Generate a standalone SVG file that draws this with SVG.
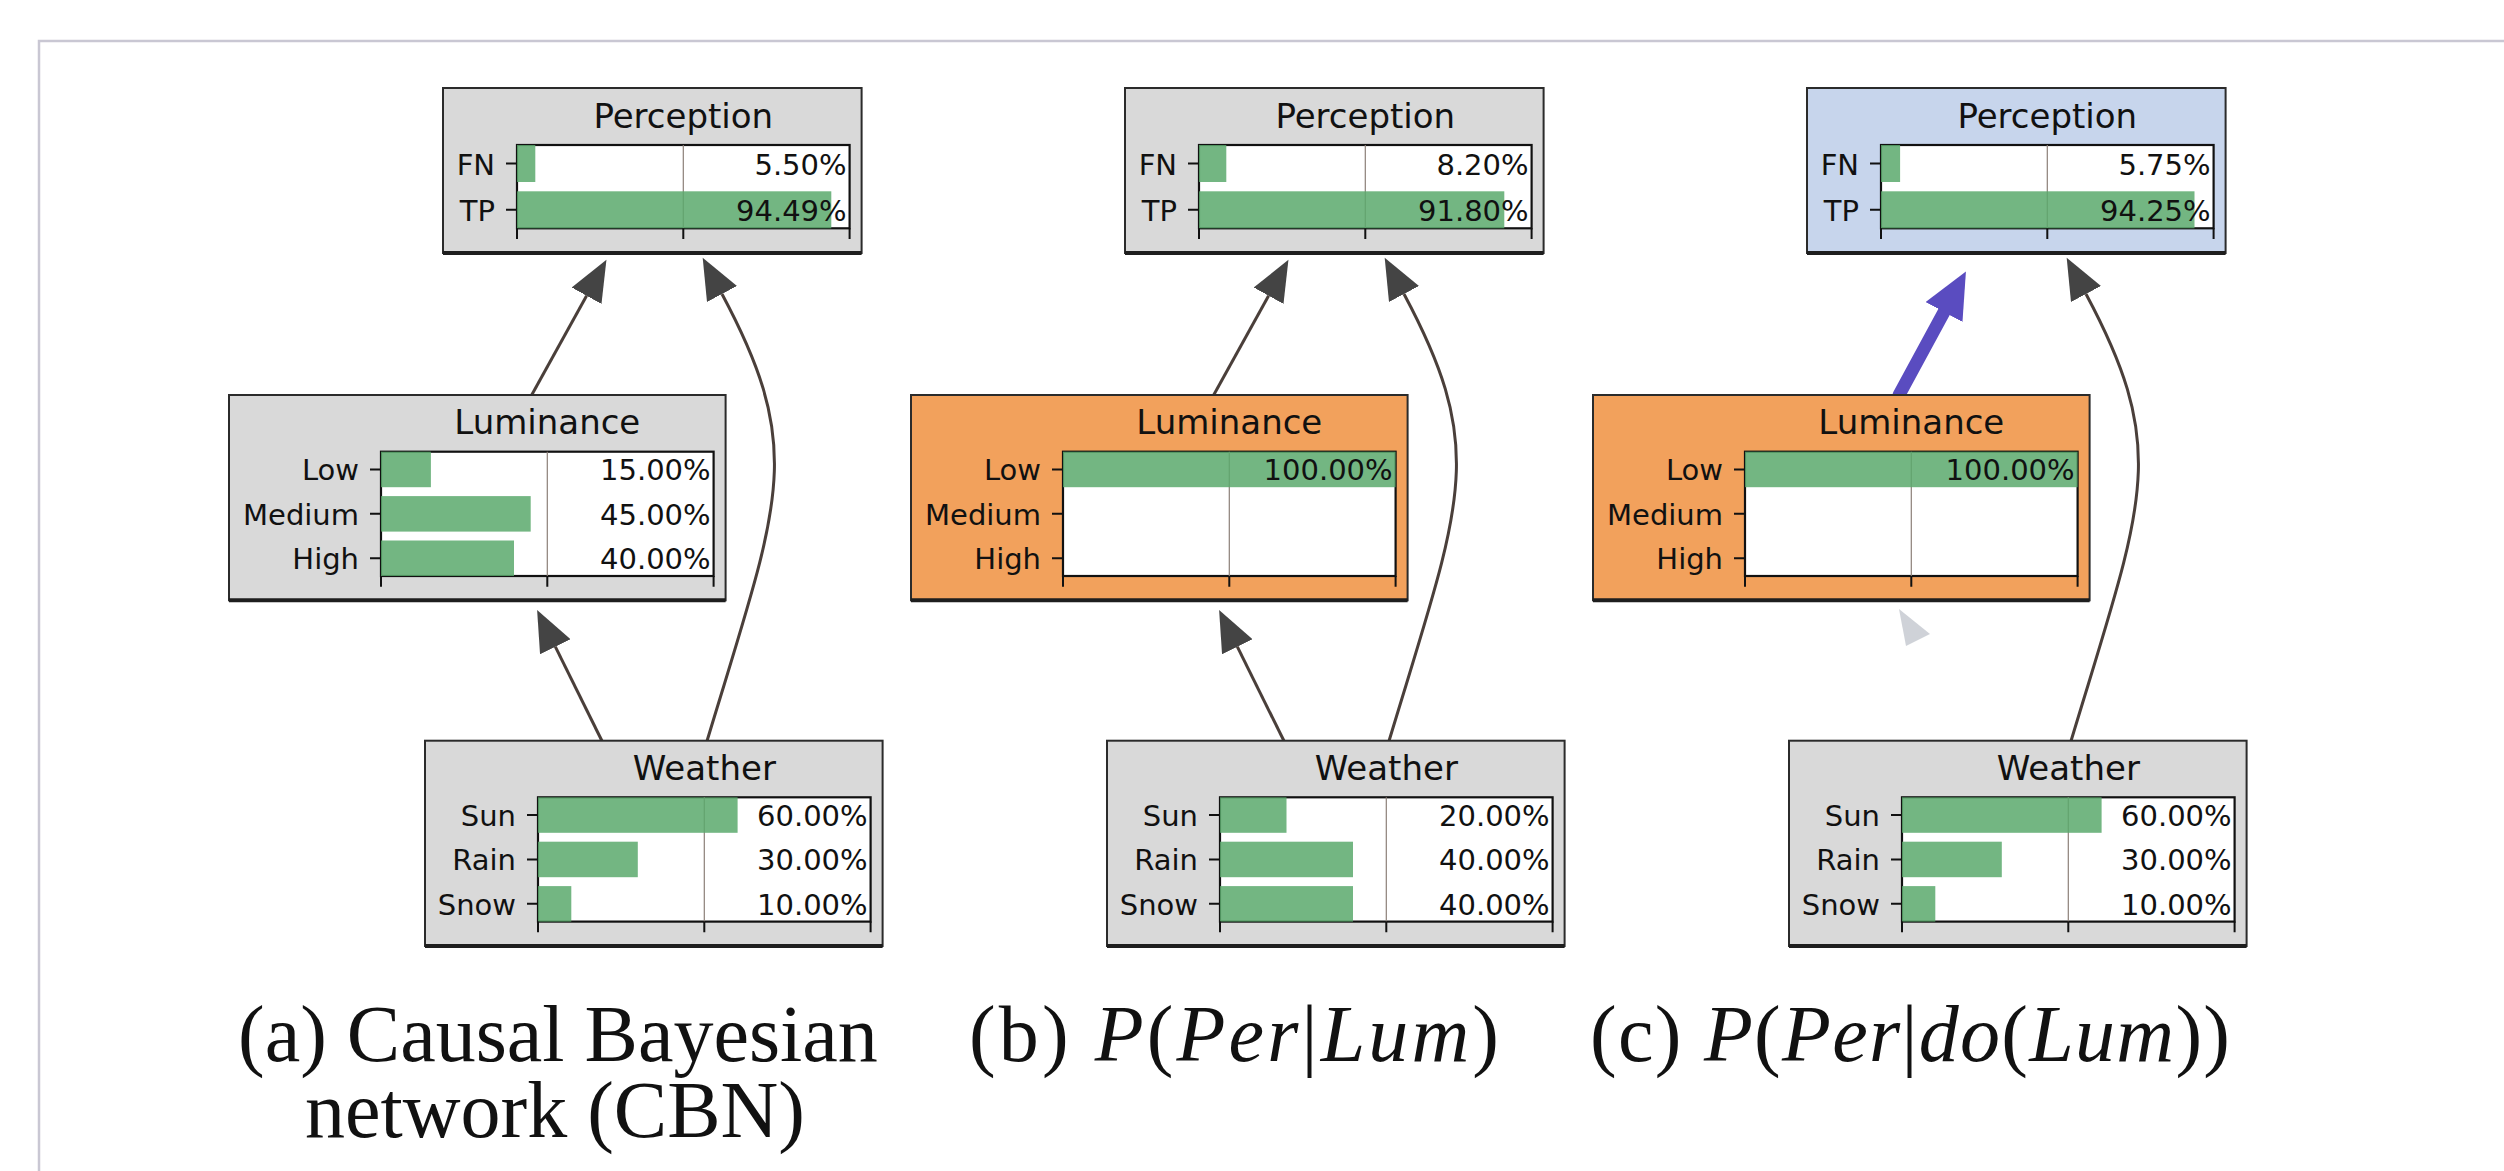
<svg xmlns="http://www.w3.org/2000/svg" width="2504" height="1171" viewBox="0 0 2504 1171">
  <style>
    .box { stroke: #2b2b2b; stroke-width: 2; }
    .grey { fill: #d9d9d9; }
    .orange { fill: #f2a15c; }
    .blue { fill: #c7d5ec; }
    .base { stroke: #1e1e1e; stroke-width: 4; }
    .plot { fill: #ffffff; stroke: #111111; stroke-width: 2.2; }
    .grid { stroke: #8c7f78; stroke-width: 1.2; }
    .bar { fill: #5aa96c; fill-opacity: 0.85; }
    .tick { stroke: #111111; stroke-width: 2; }
    .title { font-family: "DejaVu Sans", sans-serif; font-size: 34px; text-anchor: middle; fill: #111111; }
    .lab { font-family: "DejaVu Sans", sans-serif; font-size: 29px; text-anchor: end; fill: #111111; }
    .edge { fill: none; stroke: #4a3f3a; stroke-width: 3; marker-end: url(#ah); }
    .edge-do { fill: none; stroke: #5a4cc0; stroke-width: 13; stroke-linecap: round; marker-end: url(#ah-do); }
    .ghost { fill: #bfc3cb; opacity: 0.75; }
    .cap { font-family: "Liberation Serif", serif; font-size: 80px; fill: #111111; }
    .it { font-style: italic; }
    .frame { fill: none; stroke: #c9c7d3; stroke-width: 2.5; }
  </style>
  <defs>
    <marker id="ah" markerUnits="userSpaceOnUse" viewBox="0 0 42 34" markerWidth="42" markerHeight="34" refX="0" refY="17" orient="auto">
      <path d="M0,0 L41,17 L0,34 z" fill="#444444"/>
    </marker>
    <marker id="ah-do" markerUnits="userSpaceOnUse" viewBox="0 0 47 42" markerWidth="47" markerHeight="42" refX="0" refY="21" orient="auto">
      <path d="M0,0 L46,21 L0,42 z" fill="#5a4cc0"/>
    </marker>
  </defs>

  <rect x="0" y="0" width="2504" height="1171" fill="#ffffff"/>
  <path class="frame" d="M39,1171 L39,41 L2504,41"/>

  <!-- connectors -->
  <g id="connectors">
    <!-- panel a -->
    <path class="edge" d="M531.7,395 L586.6,295.7"/>
    <path class="edge" d="M707,741 C779.5,501 806.6,452.4 722,294"/>
    <path class="edge" d="M602,741 L555.3,646.7"/>
    <!-- panel b -->
    <path class="edge" d="M1213.7,395 L1268.6,295.7"/>
    <path class="edge" d="M1389,741 C1461.5,501 1488.6,452.4 1404,294"/>
    <path class="edge" d="M1284,741 L1237.3,646.7"/>
    <!-- panel c -->
    <path class="edge-do" d="M1899,395 L1944,312"/>
    <path class="edge" d="M2071,741 C2143.5,501 2170.6,452.4 2086,294"/>
    <path class="ghost" d="M1899,609 L1930,634 L1906,646 z"/>
  </g>

  <!-- panel a -->
  <g id="perception-a" transform="translate(517,145)">
    <rect class="box grey" x="-74" y="-57" width="418.6" height="165"/>
    <line class="base" x1="-74" y1="108" x2="344.6" y2="108"/>
    <text class="title" x="166.3" y="-17.5">Perception</text>
    <rect class="plot" x="0" y="0" width="332.6" height="83.3"/>
    <line class="grid" x1="166.3" y1="0" x2="166.3" y2="83.3"/>
    <rect class="bar" x="0" y="0" width="18.3" height="37"/>
    <rect class="bar" x="0" y="46.3" width="314.3" height="37"/>
    <path class="tick" d="M-11,18.5 H0 M-11,64.8 H0 M0,83.3 V94 M166.3,83.3 V94 M332.6,83.3 V94"/>
    <text class="lab" x="-22" y="29.5">FN</text>
    <text class="lab" x="-22" y="75.8">TP</text>
    <text class="lab" x="329.6" y="29.5">5.50%</text>
    <text class="lab" x="329.6" y="75.8">94.49%</text>
  </g>

  <g id="luminance-a" transform="translate(381,451.7)">
    <rect class="box grey" x="-152" y="-56.7" width="496.6" height="205.3"/>
    <line class="base" x1="-152" y1="148.6" x2="344.6" y2="148.6"/>
    <text class="title" x="166.3" y="-17.5">Luminance</text>
    <rect class="plot" x="0" y="0" width="332.6" height="124.3"/>
    <line class="grid" x1="166.3" y1="0" x2="166.3" y2="124.3"/>
    <rect class="bar" x="0" y="0" width="49.9" height="35.5"/>
    <rect class="bar" x="0" y="44.4" width="149.7" height="35.5"/>
    <rect class="bar" x="0" y="88.8" width="133" height="35.5"/>
    <path class="tick" d="M-11,17.75 H0 M-11,62.15 H0 M-11,106.55 H0 M0,124.3 V135 M166.3,124.3 V135 M332.6,124.3 V135"/>
    <text class="lab" x="-22" y="28.75">Low</text>
    <text class="lab" x="-22" y="73.15">Medium</text>
    <text class="lab" x="-22" y="117.55">High</text>
    <text class="lab" x="329.6" y="28.75">15.00%</text>
    <text class="lab" x="329.6" y="73.15">45.00%</text>
    <text class="lab" x="329.6" y="117.55">40.00%</text>
  </g>

  <g id="weather-a" transform="translate(538,797.3)">
    <rect class="box grey" x="-113" y="-56.6" width="457.6" height="205.3"/>
    <line class="base" x1="-113" y1="148.7" x2="344.6" y2="148.7"/>
    <text class="title" x="166.3" y="-17.5">Weather</text>
    <rect class="plot" x="0" y="0" width="332.6" height="124.3"/>
    <line class="grid" x1="166.3" y1="0" x2="166.3" y2="124.3"/>
    <rect class="bar" x="0" y="0" width="199.6" height="35.5"/>
    <rect class="bar" x="0" y="44.4" width="99.8" height="35.5"/>
    <rect class="bar" x="0" y="88.8" width="33.3" height="35.5"/>
    <path class="tick" d="M-11,17.75 H0 M-11,62.15 H0 M-11,106.55 H0 M0,124.3 V135 M166.3,124.3 V135 M332.6,124.3 V135"/>
    <text class="lab" x="-22" y="28.75">Sun</text>
    <text class="lab" x="-22" y="73.15">Rain</text>
    <text class="lab" x="-22" y="117.55">Snow</text>
    <text class="lab" x="329.6" y="28.75">60.00%</text>
    <text class="lab" x="329.6" y="73.15">30.00%</text>
    <text class="lab" x="329.6" y="117.55">10.00%</text>
  </g>

  <!-- panel b -->
  <g id="perception-b" transform="translate(1199,145)">
    <rect class="box grey" x="-74" y="-57" width="418.6" height="165"/>
    <line class="base" x1="-74" y1="108" x2="344.6" y2="108"/>
    <text class="title" x="166.3" y="-17.5">Perception</text>
    <rect class="plot" x="0" y="0" width="332.6" height="83.3"/>
    <line class="grid" x1="166.3" y1="0" x2="166.3" y2="83.3"/>
    <rect class="bar" x="0" y="0" width="27.3" height="37"/>
    <rect class="bar" x="0" y="46.3" width="305.3" height="37"/>
    <path class="tick" d="M-11,18.5 H0 M-11,64.8 H0 M0,83.3 V94 M166.3,83.3 V94 M332.6,83.3 V94"/>
    <text class="lab" x="-22" y="29.5">FN</text>
    <text class="lab" x="-22" y="75.8">TP</text>
    <text class="lab" x="329.6" y="29.5">8.20%</text>
    <text class="lab" x="329.6" y="75.8">91.80%</text>
  </g>

  <g id="luminance-b" transform="translate(1063,451.7)">
    <rect class="box orange" x="-152" y="-56.7" width="496.6" height="205.3"/>
    <line class="base" x1="-152" y1="148.6" x2="344.6" y2="148.6"/>
    <text class="title" x="166.3" y="-17.5">Luminance</text>
    <rect class="plot" x="0" y="0" width="332.6" height="124.3"/>
    <line class="grid" x1="166.3" y1="0" x2="166.3" y2="124.3"/>
    <rect class="bar" x="0" y="0" width="332.6" height="35.5"/>
    <path class="tick" d="M-11,17.75 H0 M-11,62.15 H0 M-11,106.55 H0 M0,124.3 V135 M166.3,124.3 V135 M332.6,124.3 V135"/>
    <text class="lab" x="-22" y="28.75">Low</text>
    <text class="lab" x="-22" y="73.15">Medium</text>
    <text class="lab" x="-22" y="117.55">High</text>
    <text class="lab" x="329.6" y="28.75">100.00%</text>
  </g>

  <g id="weather-b" transform="translate(1220,797.3)">
    <rect class="box grey" x="-113" y="-56.6" width="457.6" height="205.3"/>
    <line class="base" x1="-113" y1="148.7" x2="344.6" y2="148.7"/>
    <text class="title" x="166.3" y="-17.5">Weather</text>
    <rect class="plot" x="0" y="0" width="332.6" height="124.3"/>
    <line class="grid" x1="166.3" y1="0" x2="166.3" y2="124.3"/>
    <rect class="bar" x="0" y="0" width="66.5" height="35.5"/>
    <rect class="bar" x="0" y="44.4" width="133" height="35.5"/>
    <rect class="bar" x="0" y="88.8" width="133" height="35.5"/>
    <path class="tick" d="M-11,17.75 H0 M-11,62.15 H0 M-11,106.55 H0 M0,124.3 V135 M166.3,124.3 V135 M332.6,124.3 V135"/>
    <text class="lab" x="-22" y="28.75">Sun</text>
    <text class="lab" x="-22" y="73.15">Rain</text>
    <text class="lab" x="-22" y="117.55">Snow</text>
    <text class="lab" x="329.6" y="28.75">20.00%</text>
    <text class="lab" x="329.6" y="73.15">40.00%</text>
    <text class="lab" x="329.6" y="117.55">40.00%</text>
  </g>

  <!-- panel c -->
  <g id="perception-c" transform="translate(1881,145)">
    <rect class="box blue" x="-74" y="-57" width="418.6" height="165"/>
    <line class="base" x1="-74" y1="108" x2="344.6" y2="108"/>
    <text class="title" x="166.3" y="-17.5">Perception</text>
    <rect class="plot" x="0" y="0" width="332.6" height="83.3"/>
    <line class="grid" x1="166.3" y1="0" x2="166.3" y2="83.3"/>
    <rect class="bar" x="0" y="0" width="19.1" height="37"/>
    <rect class="bar" x="0" y="46.3" width="313.5" height="37"/>
    <path class="tick" d="M-11,18.5 H0 M-11,64.8 H0 M0,83.3 V94 M166.3,83.3 V94 M332.6,83.3 V94"/>
    <text class="lab" x="-22" y="29.5">FN</text>
    <text class="lab" x="-22" y="75.8">TP</text>
    <text class="lab" x="329.6" y="29.5">5.75%</text>
    <text class="lab" x="329.6" y="75.8">94.25%</text>
  </g>

  <g id="luminance-c" transform="translate(1745,451.7)">
    <rect class="box orange" x="-152" y="-56.7" width="496.6" height="205.3"/>
    <line class="base" x1="-152" y1="148.6" x2="344.6" y2="148.6"/>
    <text class="title" x="166.3" y="-17.5">Luminance</text>
    <rect class="plot" x="0" y="0" width="332.6" height="124.3"/>
    <line class="grid" x1="166.3" y1="0" x2="166.3" y2="124.3"/>
    <rect class="bar" x="0" y="0" width="332.6" height="35.5"/>
    <path class="tick" d="M-11,17.75 H0 M-11,62.15 H0 M-11,106.55 H0 M0,124.3 V135 M166.3,124.3 V135 M332.6,124.3 V135"/>
    <text class="lab" x="-22" y="28.75">Low</text>
    <text class="lab" x="-22" y="73.15">Medium</text>
    <text class="lab" x="-22" y="117.55">High</text>
    <text class="lab" x="329.6" y="28.75">100.00%</text>
  </g>

  <g id="weather-c" transform="translate(1902,797.3)">
    <rect class="box grey" x="-113" y="-56.6" width="457.6" height="205.3"/>
    <line class="base" x1="-113" y1="148.7" x2="344.6" y2="148.7"/>
    <text class="title" x="166.3" y="-17.5">Weather</text>
    <rect class="plot" x="0" y="0" width="332.6" height="124.3"/>
    <line class="grid" x1="166.3" y1="0" x2="166.3" y2="124.3"/>
    <rect class="bar" x="0" y="0" width="199.6" height="35.5"/>
    <rect class="bar" x="0" y="44.4" width="99.8" height="35.5"/>
    <rect class="bar" x="0" y="88.8" width="33.3" height="35.5"/>
    <path class="tick" d="M-11,17.75 H0 M-11,62.15 H0 M-11,106.55 H0 M0,124.3 V135 M166.3,124.3 V135 M332.6,124.3 V135"/>
    <text class="lab" x="-22" y="28.75">Sun</text>
    <text class="lab" x="-22" y="73.15">Rain</text>
    <text class="lab" x="-22" y="117.55">Snow</text>
    <text class="lab" x="329.6" y="28.75">60.00%</text>
    <text class="lab" x="329.6" y="73.15">30.00%</text>
    <text class="lab" x="329.6" y="117.55">10.00%</text>
  </g>

  <!-- captions -->
  <g id="captions">
    <text class="cap" x="238" y="1061">(a) Causal Bayesian</text>
    <text class="cap" x="305" y="1137">network (CBN)</text>
    <text class="cap" x="969" y="1061" textLength="530" lengthAdjust="spacing">(b) <tspan class="it">P</tspan>(<tspan class="it">Per</tspan>|<tspan class="it">Lum</tspan>)</text>
    <text class="cap" x="1590" y="1061" textLength="640" lengthAdjust="spacing">(c) <tspan class="it">P</tspan>(<tspan class="it">Per</tspan>|<tspan class="it">do</tspan>(<tspan class="it">Lum</tspan>))</text>
  </g>
</svg>
